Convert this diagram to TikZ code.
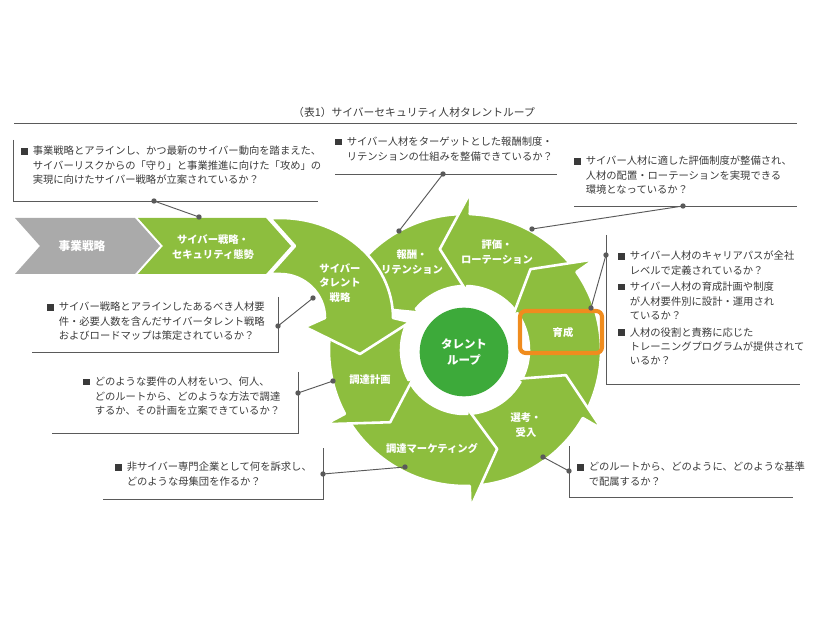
\documentclass[tikz,border=0pt]{standalone}
\usepackage{fontspec}
\setmainfont{Noto Sans CJK JP}
\usetikzlibrary{calc}
\definecolor{leaf}{RGB}{141,190,62}
\definecolor{loopgreen}{RGB}{61,170,58}
\definecolor{chevgray}{RGB}{170,170,170}
\definecolor{boxorange}{RGB}{240,140,30}
\definecolor{inkgray}{RGB}{58,58,58}
\definecolor{linegray}{RGB}{90,90,90}
\newcommand{\bul}{\makebox[1.12em][l]{\rule[0.04em]{0.62em}{0.62em}}}
\newcommand{\ind}{\hspace*{1.12em}}
\newcommand{\ringarrow}[2]{%
  \filldraw[ringseg] ($(C)+(#1:136)$) arc[start angle=#1, end angle=#2, radius=136]
    -- ($(C)+(#2:158)$) -- ($(C)+({#2-16}:104)$) -- ($(C)+(#2:58)$) -- ($(C)+(#2:64)$)
    arc[start angle=#2, end angle=#1, radius=64] -- cycle;}
\tikzset{
  ringseg/.style={fill=leaf, draw=white, line width=2.2pt, line join=round},
  lbl/.style={text=white, font=\bfseries\fontsize{8.8}{12.5}\selectfont, align=center, inner sep=0pt},
  note/.style={text=inkgray, font=\fontsize{8.8}{12.2}\selectfont, align=left, anchor=north west, inner sep=0pt},
  frame/.style={draw=linegray, line width=0.8pt},
  link/.style={draw=linegray, line width=0.8pt},
  knob/.style={fill=linegray},
}
\begin{document}
\begin{tikzpicture}[x=0.03cm, y=-0.03cm]
\useasboundingbox (0,0) rectangle (826,620);
\coordinate (C) at (465,350);

\node[note, anchor=west, font=\fontsize{9.2}{12}\selectfont] (title) at (293,112) {（表1）サイバーセキュリティ人材タレントループ};
\draw[frame] (14,123) -- (797,123);

\fill[chevgray] (15,218) -- (135,218) -- (160,246) -- (135,274) -- (15,274) -- (40,246) -- cycle;
\fill[leaf] (138,218) -- (266,218) -- (291,246) -- (266,274) -- (138,274) -- (163,246) -- cycle;

\ringarrow{-89}{-140}
\ringarrow{-36}{-88}
\ringarrow{29}{-35}
\ringarrow{87}{30}
\ringarrow{151}{88}
\ringarrow{206}{152}

\filldraw[ringseg] (270,218) -- (280,218) arc[start angle=-90, end angle=0, x radius=113, y radius=100]
  -- (410,322) -- (360,354) -- (305,327) -- (325,318)
  arc[start angle=0, end angle=-90, x radius=45, y radius=44] -- (270,274) -- (295,246) -- cycle;

\node[circle, fill=loopgreen, minimum size=2.66cm, text=white, font=\bfseries\fontsize{9.8}{13}\selectfont, align=center] (loop) at (464,352) {タレント\\ループ};
\draw[draw=boxorange, line width=3.5pt, rounded corners=5pt] (520,311) rectangle (602,353);

\node[lbl, font=\bfseries\fontsize{10}{12}\selectfont] (jigyo) at (82,246) {事業戦略};
\node[lbl] (cyber) at (213,247) {サイバー戦略・\\セキュリティ態勢};
\node[lbl] (tstrategy) at (340,283) {サイバー\\タレント\\戦略};
\node[lbl] (hoshu) at (412,262) {報酬・\\リテンション};
\node[lbl] (hyoka) at (497,252) {評価・\\ローテーション};
\node[lbl] (ikusei) at (563,333) {育成};
\node[lbl] (senko) at (526,425) {選考・\\受入};
\node[lbl] (marketing) at (432,448) {調達マーケティング};
\node[lbl] (keikaku) at (370,380) {調達計画};

\node[note] (noteA) at (21,146) {\bul 事業戦略とアラインし、かつ最新のサイバー動向を踏まえた、\\\ind サイバーリスクからの「守り」と事業推進に向けた「攻め」の\\\ind 実現に向けたサイバー戦略が立案されているか？};
\draw[frame] (13,140) -- (13,201) -- (318,201);
\node[note] (noteB) at (335,137) {\bul サイバー人材をターゲットとした報酬制度・\\\ind リテンションの仕組みを整備できているか？};
\draw[frame] (335,174) -- (557,174);
\node[note] (noteC) at (574,156) {\bul サイバー人材に適した評価制度が整備され、\\\ind 人材の配置・ローテーションを実現できる\\\ind 環境となっているか？};
\draw[frame] (574,206) -- (797,206);
\node[note] (noteD) at (618,251) {\bul サイバー人材のキャリアパスが全社\\\ind レベルで定義されているか？\\[2pt]\bul サイバー人材の育成計画や制度\\\ind が人材要件別に設計・運用され\\\ind ているか？\\[2pt]\bul 人材の役割と責務に応じた\\\ind トレーニングプログラムが提供されて\\\ind いるか？};
\draw[frame] (606,235) -- (606,384) -- (800,384);
\node[note] (noteE) at (47,302) {\bul サイバー戦略とアラインしたあるべき人材要\\\ind 件・必要人数を含んだサイバータレント戦略\\\ind およびロードマップは策定されているか？};
\draw[frame] (278,297) -- (278,352) -- (32,352);
\node[note] (noteF) at (83,377) {\bul どのような要件の人材をいつ、何人、\\\ind どのルートから、どのような方法で調達\\\ind するか、その計画を立案できているか？};
\draw[frame] (298,372) -- (298,433) -- (52,433);
\node[note] (noteG) at (115,462) {\bul 非サイバー専門企業として何を訴求し、\\\ind どのような母集団を作るか？};
\draw[frame] (323,448) -- (323,499) -- (103,499);
\node[note] (noteH) at (577,462) {\bul どのルートから、どのように、どのような基準\\\ind で配属するか？};
\draw[frame] (569,446) -- (569,497) -- (793,497);

\coordinate (a1) at (154,201); \coordinate (a2) at (199,217);
\coordinate (b1) at (443,174); \coordinate (b2) at (399,231);
\coordinate (c1) at (683,206); \coordinate (c2) at (532,229);
\coordinate (d1) at (606,255); \coordinate (d2) at (591,308);
\coordinate (e1) at (278,326); \coordinate (e2) at (313,298);
\coordinate (f1) at (298,393); \coordinate (f2) at (333,381);
\coordinate (g1) at (323,474); \coordinate (g2) at (405,467);
\coordinate (h1) at (569,471); \coordinate (h2) at (543,457);
\draw[link] (a1) -- (a2);
\draw[link] (b1) -- (b2);
\draw[link] (c1) -- (c2);
\draw[link] (d1) -- (d2);
\draw[link] (e1) -- (e2);
\draw[link] (f1) -- (f2);
\draw[link] (g1) -- (g2);
\draw[link] (h1) -- (h2);
\foreach \p in {a1,a2,b1,b2,c1,c2,d1,d2,e1,e2,f1,f2,g1,g2,h1,h2}
  \fill[knob] (\p) circle[radius=2.3pt];
\end{tikzpicture}
\end{document}
